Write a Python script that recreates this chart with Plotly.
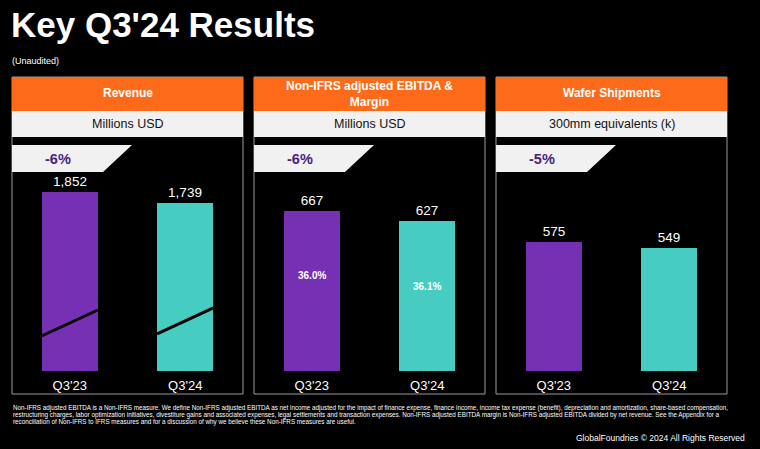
import plotly.graph_objects as go

W, H = 760, 449
FONT = "Liberation Sans, Arial, sans-serif"

# ---- data ----
categories = ["Q3'23", "Q3'24"]
revenue = [1852, 1739]
ebitda = [667, 627]
ebitda_margin = ["36.0%", "36.1%"]
wafers = [575, 549]
panel_titles = ["Revenue", "Non-IFRS adjusted EBITDA &<br>Margin", "Wafer Shipments"]
panel_units = ["Millions USD", "Millions USD", "300mm equivalents (k)"]
changes = ["-6%", "-6%", "-5%"]

PURPLE = "#7630B3"
TEAL = "#47CCC1"
ORANGE = "#FC6A1A"
LIGHT = "#F1F1F1"
BADGE_TXT = "#4A2378"

def fx(x):
    return x / W

def fy(y):
    return 1 - y / H

panels_px = [(12, 243), (254, 485), (496, 727)]
plot_top, plot_bot = 137, 371
yranges = [2421, 977, 1044]
series = [revenue, ebitda, wafers]

fig = go.Figure()
shapes = []
annotations = []

for i, (x0, x1) in enumerate(panels_px):
    n = i + 1
    xa = "x" if n == 1 else f"x{n}"
    ya = "y" if n == 1 else f"y{n}"
    fig.add_trace(go.Bar(
        x=categories, y=series[i], xaxis=xa, yaxis=ya,
        marker=dict(color=[PURPLE, TEAL], line=dict(width=0)),
        width=0.487,
        text=[f"{v:,}" for v in series[i]], textposition="outside",
        textfont=dict(color="white", size=13.5, family=FONT),
        cliponaxis=False, showlegend=False, hoverinfo="skip",
    ))
    xkey = "xaxis" if n == 1 else f"xaxis{n}"
    ykey = "yaxis" if n == 1 else f"yaxis{n}"
    fig.update_layout(**{
        xkey: dict(domain=[fx(x0), fx(x1)], anchor=ya, range=[-0.5, 1.5],
                   showgrid=False, zeroline=False, showline=False, ticks="",
                   tickfont=dict(color="white", size=13, family=FONT),
                   ticklabelstandoff=5, fixedrange=True),
        ykey: dict(domain=[fy(plot_bot), fy(plot_top)], anchor=xa, range=[0, yranges[i]],
                   showgrid=False, zeroline=False, showline=False, showticklabels=False,
                   fixedrange=True),
    })
    # panel border
    shapes.append(dict(type="rect", xref="paper", yref="paper",
                       x0=fx(x0), x1=fx(x1), y0=fy(394), y1=fy(77),
                       line=dict(color="#9A9A9A", width=1), fillcolor="rgba(0,0,0,0)", layer="below"))
    # orange header
    shapes.append(dict(type="rect", xref="paper", yref="paper",
                       x0=fx(x0), x1=fx(x1), y0=fy(111), y1=fy(77),
                       line=dict(width=0), fillcolor=ORANGE))
    # light sub-header
    shapes.append(dict(type="rect", xref="paper", yref="paper",
                       x0=fx(x0), x1=fx(x1), y0=fy(137), y1=fy(111),
                       line=dict(width=0), fillcolor=LIGHT))
    # badge parallelogram
    path = (f"M {fx(x0)} {fy(145)} L {fx(x0 + 120)} {fy(145)} "
            f"L {fx(x0 + 91)} {fy(172)} L {fx(x0)} {fy(172)} Z")
    shapes.append(dict(type="path", xref="paper", yref="paper", path=path,
                       line=dict(width=0), fillcolor=LIGHT))
    cx = (x0 + x1) / 2
    annotations.append(dict(xref="paper", yref="paper", x=fx(cx), y=fy(93 if i != 1 else 94),
                            text=f"<b>{panel_titles[i]}</b>", showarrow=False,
                            xanchor="center", yanchor="middle",
                            font=dict(color="white", size=12, family=FONT)))
    annotations.append(dict(xref="paper", yref="paper", x=fx(cx), y=fy(124),
                            text=panel_units[i], showarrow=False,
                            xanchor="center", yanchor="middle",
                            font=dict(color="#111111", size=12.5, family=FONT)))
    annotations.append(dict(xref="paper", yref="paper", x=fx(x0 + 46), y=fy(159),
                            text=f"<b>{changes[i]}</b>", showarrow=False,
                            xanchor="center", yanchor="middle",
                            font=dict(color=BADGE_TXT, size=14.5, family=FONT)))

# axis-break diagonals on revenue bars
break_lo = [362, 383]
break_hi = [631, 652]
for j in range(2):
    shapes.append(dict(type="line", xref="x", yref="y",
                       x0=j - 0.2435, x1=j + 0.2435, y0=break_lo[j], y1=break_hi[j],
                       line=dict(color="black", width=3)))

# margin labels in EBITDA bars
margin_y = [275, 286]
for j in range(2):
    annotations.append(dict(xref="x2", yref="paper", x=j, y=fy(margin_y[j]),
                            text=f"<b>{ebitda_margin[j]}</b>", showarrow=False,
                            xanchor="center", yanchor="middle",
                            font=dict(color="white", size=10, family=FONT)))

# title and notes
annotations.append(dict(xref="paper", yref="paper", x=fx(9), y=fy(24),
                        text="<b>Key Q3'24 Results</b>", showarrow=False,
                        xanchor="left", yanchor="middle",
                        font=dict(color="white", size=35, family=FONT)))
annotations.append(dict(xref="paper", yref="paper", x=fx(10), y=fy(61),
                        text="(Unaudited)", showarrow=False,
                        xanchor="left", yanchor="middle",
                        font=dict(color="white", size=9, family=FONT)))

foot_lines = [
    "Non-IFRS adjusted EBITDA is a Non-IFRS measure. We define Non-IFRS adjusted EBITDA as net income adjusted for the impact of finance expense, finance income, income tax expense (benefit), depreciation and amortization, share-based compensation,",
    "restructuring charges, labor optimization initiatives, divestiture gains and associated expenses, legal settlements and transaction expenses. Non-IFRS adjusted EBITDA margin is Non-IFRS adjusted EBITDA divided by net revenue. See the Appendix for a",
    "reconciliation of Non-IFRS to IFRS measures and for a discussion of why we believe these Non-IFRS measures are useful.",
]
for k, line in enumerate(foot_lines):
    annotations.append(dict(xref="paper", yref="paper", x=fx(11), y=fy(408 + k * 7),
                            text=line, showarrow=False,
                            xanchor="left", yanchor="middle",
                            font=dict(color="white", size=6.3, family=FONT)))
annotations.append(dict(xref="paper", yref="paper", x=fx(747), y=fy(438),
                        text="GlobalFoundries © 2024 All Rights Reserved", showarrow=False,
                        xanchor="right", yanchor="middle",
                        font=dict(color="white", size=8.5, family=FONT)))

fig.update_layout(
    width=W, height=H,
    margin=dict(l=0, r=0, t=0, b=0),
    paper_bgcolor="black", plot_bgcolor="black",
    shapes=shapes, annotations=annotations,
    bargap=0, showlegend=False,
    font=dict(family=FONT, color="white"),
)

fig.write_html("out.html", config={"displayModeBar": False},
               post_script="document.body.style.margin='0';document.body.style.background='black';")
